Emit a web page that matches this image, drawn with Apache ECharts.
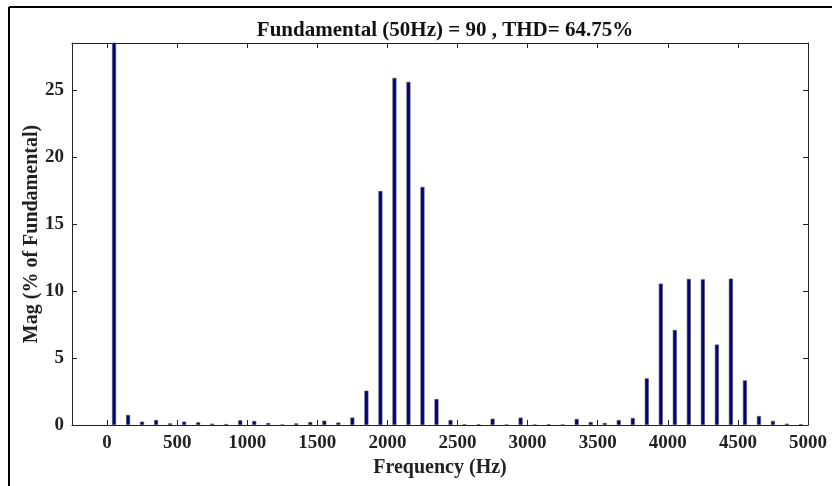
<!DOCTYPE html>
<html>
<head>
<meta charset="utf-8">
<script src="https://cdn.jsdelivr.net/npm/echarts@6/dist/echarts.min.js"></script>
<style>
  html, body { margin: 0; padding: 0; background: #fff; }
  #chart { width: 832px; height: 486px; }
</style>
</head>
<body>
<div id="chart"></div>
<script>
// Harmonic spectrum: frequency of each bar (Hz) and magnitude (% of fundamental)
const frequencies = [
  50, 150, 250, 350, 450, 550, 650, 750, 850, 950,
  1050, 1150, 1250, 1350, 1450, 1550, 1650, 1750, 1850, 1950,
  2050, 2150, 2250, 2350, 2450, 2550, 2650, 2750, 2850, 2950,
  3050, 3150, 3250, 3350, 3450, 3550, 3650, 3750, 3850, 3950,
  4050, 4150, 4250, 4350, 4450, 4550, 4650, 4750, 4850, 4950
];
const magnitudes = [
  100, 0.75, 0.25, 0.37, 0.12, 0.25, 0.2, 0.1, 0.07, 0.35,
  0.3, 0.15, 0.02, 0.12, 0.22, 0.32, 0.18, 0.55, 2.56, 17.46,
  25.9, 25.6, 17.76, 1.94, 0.37, 0.05, 0.05, 0.47, 0.02, 0.55,
  0.02, 0.05, 0.02, 0.45, 0.22, 0.15, 0.37, 0.52, 3.48, 10.55,
  7.09, 10.9, 10.87, 6.0, 10.92, 3.33, 0.67, 0.3, 0.1, 0.05
];
const xTicks = [0, 500, 1000, 1500, 2000, 2500, 3000, 3500, 4000, 4500, 5000];
const yTicks = [0, 5, 10, 15, 20, 25];
const titleText = 'Fundamental (50Hz) = 90 , THD= 64.75%';
const xName = 'Frequency (Hz)';
const yName = 'Mag (% of Fundamental)';

const FONT = '"Liberation Serif", "Times New Roman", serif';
const axisLineStyle = { show: true, onZero: false, lineStyle: { color: '#222', width: 1 } };
const plain = v => String(v);

const chart = echarts.init(document.getElementById('chart'), null, { renderer: 'canvas' });

chart.setOption({
  animation: false,
  backgroundColor: '#fff',
  title: {
    text: titleText,
    left: 440, top: 15, textAlign: 'center',
    textStyle: { fontFamily: FONT, fontWeight: 'bold', fontSize: 21, color: '#111' }
  },
  graphic: [
    { type: 'line', shape: { x1: 9, y1: 7, x2: 832, y2: 7 }, style: { stroke: '#000', lineWidth: 2 } },
    { type: 'line', shape: { x1: 9, y1: 7, x2: 9, y2: 486 }, style: { stroke: '#000', lineWidth: 2 } }
  ],
  grid: { left: 72, right: 24, top: 43, bottom: 61, show: false },
  xAxis: [
    {
      type: 'value', position: 'bottom', min: -250, max: 5000,
      name: xName, nameLocation: 'middle', nameGap: 33,
      nameTextStyle: { fontFamily: FONT, fontWeight: 'bold', fontSize: 20, color: '#222' },
      axisLine: axisLineStyle,
      axisTick: { show: true, inside: true, length: 5, customValues: xTicks, lineStyle: { color: '#222' } },
      axisLabel: { customValues: xTicks, formatter: plain, margin: 9, fontFamily: FONT, fontWeight: 'bold', fontSize: 19, color: '#222' },
      splitLine: { show: false }
    },
    {
      type: 'value', position: 'top', min: -250, max: 5000,
      axisLine: axisLineStyle,
      axisTick: { show: true, inside: true, length: 5, customValues: xTicks, lineStyle: { color: '#222' } },
      axisLabel: { show: false },
      splitLine: { show: false }
    }
  ],
  yAxis: [
    {
      type: 'value', position: 'left', min: 0, max: 28.5,
      name: yName, nameLocation: 'middle', nameGap: 30, nameRotate: 90,
      nameMoveOverlap: false,
      nameTextStyle: { fontFamily: FONT, fontWeight: 'bold', fontSize: 20, color: '#222' },
      axisLine: axisLineStyle,
      axisTick: { show: true, inside: true, length: 5, customValues: yTicks, lineStyle: { color: '#222' } },
      axisLabel: { customValues: yTicks, formatter: plain, margin: 8, fontFamily: FONT, fontWeight: 'bold', fontSize: 19, color: '#222' },
      splitLine: { show: false }
    },
    {
      type: 'value', position: 'right', min: 0, max: 28.5,
      axisLine: axisLineStyle,
      axisTick: { show: true, inside: true, length: 5, customValues: yTicks, lineStyle: { color: '#222' } },
      axisLabel: { show: false },
      splitLine: { show: false }
    }
  ],
  series: [
    {
      type: 'bar',
      xAxisIndex: 0, yAxisIndex: 0,
      clip: true,
      barWidth: 4,
      data: frequencies.map((f, i) => [f, magnitudes[i]]),
      itemStyle: { color: '#000080', borderColor: '#555', borderWidth: 0.6 }
    }
  ]
});
</script>
</body>
</html>
